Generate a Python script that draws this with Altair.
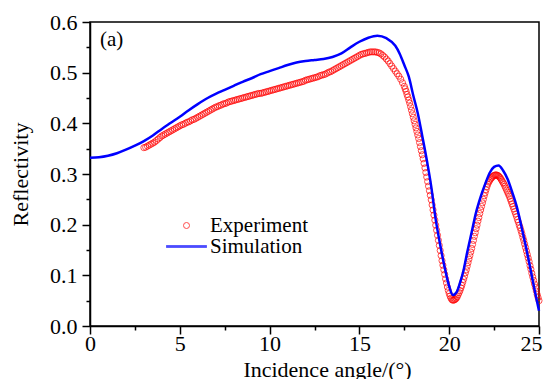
import altair as alt
import pandas as pd

# ---------------- data ----------------
SERIES = ["Experiment", "Simulation"]
PANEL_LABEL = ["(a)"]

sim_angle = [0.0, 0.5, 1.0, 1.5, 2.0, 2.5, 3.0, 3.5, 4.0, 4.5,
             5.0, 5.5, 6.0, 6.5, 7.0, 7.5, 8.0, 8.5, 9.0, 9.5,
             10.0, 10.5, 11.0, 11.5, 12.0, 12.5, 13.0, 13.5, 14.0, 14.5,
             15.0, 15.5, 16.0, 16.5, 17.0, 17.25, 17.5, 17.75, 18.0, 18.25,
             18.5, 18.75, 19.0, 19.25, 19.5, 19.75, 20.0, 20.2, 20.4, 20.6,
             20.8, 21.0, 21.25, 21.5, 21.75, 22.0, 22.25, 22.5, 22.75, 23.0,
             23.25, 23.5, 23.75, 24.0, 24.25, 24.5, 24.75, 25.0]
sim_refl = [0.332, 0.333, 0.336, 0.341, 0.348, 0.356, 0.365, 0.376, 0.389, 0.401,
            0.413, 0.426, 0.438, 0.449, 0.458, 0.466, 0.474, 0.482, 0.489, 0.497,
            0.503, 0.509, 0.515, 0.520, 0.523, 0.525, 0.527, 0.531, 0.538, 0.550,
            0.561, 0.569, 0.573, 0.568, 0.553, 0.537, 0.515, 0.492, 0.455, 0.420,
            0.375, 0.328, 0.275, 0.210, 0.160, 0.115, 0.078, 0.061, 0.066, 0.085,
            0.110, 0.145, 0.185, 0.225, 0.255, 0.280, 0.302, 0.314, 0.317, 0.307,
            0.290, 0.265, 0.237, 0.200, 0.160, 0.117, 0.072, 0.030]

# sampling grid of the measured points (0.1 deg, then 0.05 deg)
exp_angle = [round(3.0 + 0.1 * i, 2) for i in range(145)] + \
            [round(17.5 + 0.05 * i, 2) for i in range(151)]
exp_refl = [
    0.352, 0.353, 0.355, 0.357, 0.359, 0.361, 0.363, 0.366, 0.369, 0.372,
    0.375, 0.377, 0.379, 0.381, 0.383, 0.385, 0.387, 0.389, 0.391, 0.393,
    0.395, 0.397, 0.398, 0.400, 0.402, 0.403, 0.405, 0.407, 0.408, 0.410,
    0.412, 0.414, 0.416, 0.418, 0.420, 0.422, 0.424, 0.426, 0.428, 0.430,
    0.432, 0.433, 0.435, 0.436, 0.438, 0.439, 0.440, 0.442, 0.443, 0.444,
    0.445, 0.446, 0.447, 0.448, 0.449, 0.450, 0.451, 0.452, 0.453, 0.454,
    0.455, 0.456, 0.457, 0.458, 0.459, 0.459, 0.460, 0.461, 0.462, 0.463,
    0.464, 0.465, 0.466, 0.467, 0.468, 0.469, 0.470, 0.471, 0.472, 0.473,
    0.474, 0.475, 0.476, 0.477, 0.478, 0.479, 0.480, 0.481, 0.482, 0.483,
    0.485, 0.486, 0.487, 0.488, 0.489, 0.490, 0.491, 0.492, 0.494, 0.495,
    0.496, 0.497, 0.499, 0.501, 0.502, 0.504, 0.506, 0.508, 0.510, 0.512,
    0.514, 0.516, 0.518, 0.520, 0.522, 0.524, 0.526, 0.528, 0.530, 0.532,
    0.534, 0.536, 0.537, 0.538, 0.539, 0.540, 0.541, 0.541, 0.541, 0.541,
    0.540, 0.539, 0.537, 0.534, 0.531, 0.527, 0.523, 0.518, 0.513, 0.508,
    0.503, 0.498, 0.493, 0.487, 0.480,
    # fine part, 17.5 .. 25.0
    0.473, 0.468, 0.463, 0.457, 0.452, 0.446, 0.440, 0.433, 0.426, 0.419,
    0.412, 0.405, 0.398, 0.391, 0.384, 0.377, 0.370, 0.362, 0.354, 0.346,
    0.338, 0.330, 0.321, 0.312, 0.303, 0.294, 0.285, 0.276, 0.267, 0.258,
    0.249, 0.239, 0.229, 0.219, 0.209, 0.199, 0.189, 0.179, 0.169, 0.159,
    0.149, 0.139, 0.129, 0.120, 0.111, 0.102, 0.093, 0.085, 0.077, 0.070,
    0.064, 0.059, 0.055, 0.052, 0.051, 0.051, 0.052, 0.053, 0.055, 0.058,
    0.062, 0.066, 0.070, 0.075, 0.080, 0.086, 0.092, 0.098, 0.105, 0.111,
    0.118, 0.125, 0.132, 0.139, 0.146, 0.153, 0.161, 0.169, 0.177, 0.184,
    0.192, 0.199, 0.207, 0.214, 0.222, 0.229, 0.236, 0.243, 0.250, 0.257,
    0.263, 0.269, 0.275, 0.280, 0.284, 0.287, 0.290, 0.292, 0.294, 0.296,
    0.297, 0.298, 0.298, 0.298, 0.297, 0.296, 0.294, 0.292, 0.289, 0.286,
    0.283, 0.280, 0.276, 0.272, 0.268, 0.264, 0.260, 0.256, 0.251, 0.246,
    0.241, 0.236, 0.231, 0.226, 0.221, 0.216, 0.210, 0.205, 0.199, 0.194,
    0.188, 0.182, 0.175, 0.169, 0.162, 0.155, 0.148, 0.141, 0.134, 0.127,
    0.119, 0.112, 0.104, 0.097, 0.090, 0.083, 0.076, 0.069, 0.062, 0.056,
    0.050,
]

X_TICKS = [0, 2.5, 5, 7.5, 10, 12.5, 15, 17.5, 20, 22.5, 25]
Y_TICKS = [0.0, 0.05, 0.1, 0.15, 0.2, 0.25, 0.3, 0.35, 0.4, 0.45, 0.5, 0.55, 0.6]

sim_df = pd.DataFrame({"angle": sim_angle, "refl": sim_refl, "series": "Simulation"})
exp_df = pd.DataFrame({"angle": exp_angle, "refl": exp_refl, "series": "Experiment"})
lab_df = pd.DataFrame({"label": PANEL_LABEL})

FONT = "Liberation Serif"
RED = "#ff0000"
BLUE = "#0000ff"

x_scale = alt.Scale(domain=[0, 25], nice=False, zero=False)
y_scale = alt.Scale(domain=[0, 0.6], nice=False, zero=False)

x_axis = alt.Axis(
    values=X_TICKS, grid=False, title="Incidence angle/(°)",
    labelExpr="datum.value % 5 == 0 ? format(datum.value, 'd') : ''",
    tickSize={"condition": {"test": "datum.value % 5 != 0", "value": 4}, "value": 8},
    labelAlign={"condition": {"test": "datum.value >= 25", "value": "right"}, "value": "center"},
    labelOffset={"condition": {"test": "datum.value >= 25", "value": 3}, "value": 0},
    labelFont=FONT, labelFontSize=22, labelColor="black", labelPadding=16,
    labelBaseline="alphabetic", labelOverlap=False, labelFlush=False,
    titleFont=FONT, titleFontSize=22, titleFontWeight="normal", titleColor="black",
    titleX=237, titleY=50, titleBaseline="alphabetic", titleAlign="center",
    domainColor="black", domainWidth=1.5, tickColor="black", tickWidth=1.5,
)
y_axis = alt.Axis(
    values=Y_TICKS, grid=False, title="Reflectivity",
    labelExpr="round(datum.value * 100) % 10 == 0 ? format(datum.value, '.1f') : ''",
    tickSize={"condition": {"test": "round(datum.value * 100) % 10 != 0", "value": 4}, "value": 8},
    labelFont=FONT, labelFontSize=22, labelColor="black", labelPadding=5,
    labelOverlap=False, labelFlush=False,
    titleFont=FONT, titleFontSize=22, titleFontWeight="normal", titleColor="black",
    titleX=-63, titleY=152, titleAngle=-90, titleBaseline="alphabetic", titleAlign="center",
    domainColor="black", domainWidth=1.5, tickColor="black", tickWidth=1.5,
)

line = alt.Chart(sim_df).mark_line(color=BLUE, strokeWidth=2.5, interpolate="monotone").encode(
    x=alt.X("angle:Q", scale=x_scale, axis=x_axis),
    y=alt.Y("refl:Q", scale=y_scale, axis=y_axis),
    order="angle:Q",
)

legend = alt.Legend(
    title=None, orient="none", legendX=86, legendY=193,
    labelFont=FONT, labelFontSize=21, labelColor="black", labelOffset=13,
    symbolSize=36, symbolStrokeWidth=1, rowPadding=-1,
)

LINE_SYMBOL = "M-6.8,-0.3H6.8M-6.8,0H6.8M-6.8,0.3H6.8"

points = alt.Chart(exp_df).mark_point(filled=False, strokeWidth=1, size=38).encode(
    x=alt.X("angle:Q", scale=x_scale, axis=x_axis),
    y=alt.Y("refl:Q", scale=y_scale, axis=y_axis),
    color=alt.Color("series:N", scale=alt.Scale(domain=SERIES, range=[RED, BLUE]), legend=legend),
    shape=alt.Shape("series:N", scale=alt.Scale(domain=SERIES, range=["circle", LINE_SYMBOL]),
                    legend=legend),
)

panel = alt.Chart(lab_df).mark_text(
    font=FONT, fontSize=21, color="black", align="left", baseline="alphabetic"
).encode(
    text="label:N",
    x=alt.value(10),
    y=alt.value(24),
)

chart = alt.layer(points, line, panel).properties(
    width=449, height=304,
    autosize=alt.AutoSizeParams(type="none"),
    padding={"left": 82, "top": 14, "right": 4, "bottom": 57},
).configure_view(
    stroke="black", strokeWidth=1.5
).configure_axis(
    labelFont=FONT, titleFont=FONT
)

chart.save("out.html", embed_options={"renderer": "svg", "actions": False})
